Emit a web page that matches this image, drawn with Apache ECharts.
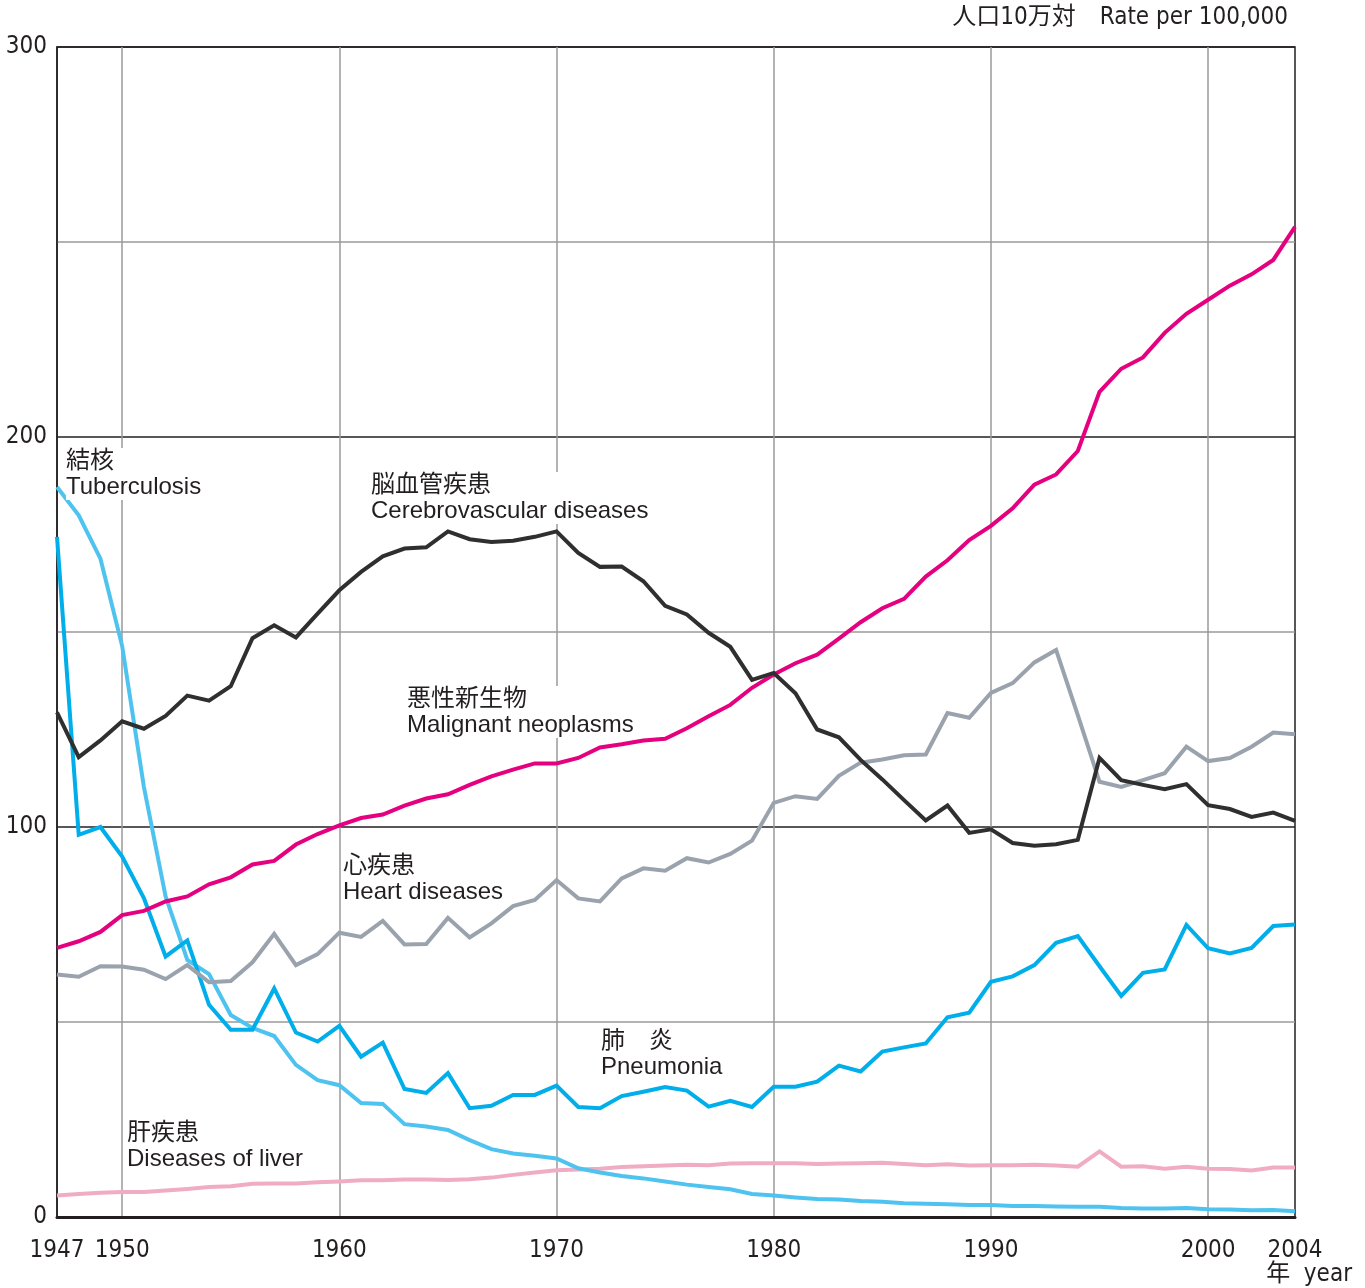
<!DOCTYPE html>
<html>
<head>
<meta charset="utf-8">
<script src="https://cdn.jsdelivr.net/npm/echarts@6/dist/echarts.min.js"></script>
<style>
html,body{margin:0;padding:0;background:#fff;}
#c{width:1365px;height:1288px;}
</style>
</head>
<body>
<div id="c"></div>
<script>
const years = [];
for (let y = 1947; y <= 2004; y++) years.push(String(y));
const xTickLabels = ['1947','1950','1960','1970','1980','1990','2000','2004'];
const yTickLabels = [0, 100, 200, 300];

const cerebrovascular = [129.4,117.9,122.2,127.1,125.2,128.5,133.7,132.4,136.1,148.4,151.7,148.6,154.7,160.7,165.4,169.4,171.4,171.7,175.8,173.8,173.1,173.4,174.4,175.8,170.3,166.7,166.8,163.0,156.7,154.5,149.8,146.2,137.7,139.5,134.3,125.0,123.0,117.2,112.2,106.9,101.7,105.5,98.5,99.4,95.9,95.2,95.6,96.7,117.7,112.0,110.8,109.7,111.0,105.6,104.6,102.6,103.7,101.6];
const malignant = [69.0,70.7,73.1,77.4,78.5,80.9,82.2,85.3,87.1,90.4,91.3,95.5,98.2,100.4,102.3,103.2,105.5,107.3,108.4,110.8,113.0,114.7,116.3,116.3,117.7,120.4,121.2,122.2,122.6,125.3,128.4,131.3,135.7,139.1,142.0,144.2,148.3,152.5,156.1,158.5,164.2,168.4,173.6,177.2,181.7,187.8,190.4,196.4,211.6,217.5,220.4,226.7,231.6,235.2,238.8,241.7,245.4,253.9];
const heart = [62.2,61.6,64.3,64.2,63.4,61.0,64.6,60.2,60.5,65.3,72.6,64.6,67.4,72.9,71.8,75.9,69.9,70.0,76.7,71.7,75.3,79.7,81.3,86.4,81.7,80.9,86.8,89.4,88.8,92.0,90.9,93.1,96.5,106.2,107.9,107.2,113.1,116.5,117.3,118.4,118.6,129.2,128.0,134.4,136.9,142.2,145.4,128.7,111.6,110.3,112.0,113.8,120.6,116.9,117.7,120.6,124.2,123.8];
const tuberculosis = [187.2,179.9,168.8,146.4,110.3,82.2,65.9,62.3,51.8,48.5,46.4,39.0,35.1,33.8,29.2,29.0,23.8,23.2,22.3,19.7,17.4,16.3,15.7,15.0,12.5,11.4,10.5,9.9,9.1,8.3,7.7,7.1,5.9,5.5,5.0,4.6,4.5,4.1,3.9,3.5,3.4,3.3,3.1,3.1,2.8,2.8,2.7,2.6,2.6,2.3,2.2,2.2,2.3,2.0,1.9,1.7,1.8,1.5];
const pneumonia = [174.4,98.0,100.0,92.4,81.8,66.8,70.9,54.4,48.0,48.0,58.6,47.3,45.0,49.0,41.1,44.7,32.8,31.8,36.9,27.9,28.5,31.3,31.3,33.7,28.2,27.9,31.0,32.1,33.3,32.4,28.3,29.8,28.2,33.4,33.4,34.7,38.8,37.3,42.4,43.5,44.5,51.2,52.4,60.3,61.7,64.6,70.3,72.0,64.3,56.7,62.6,63.5,74.9,68.9,67.6,69.0,74.6,75.0];
const liver = [5.5,5.9,6.2,6.4,6.4,6.8,7.2,7.7,7.9,8.5,8.6,8.6,8.9,9.1,9.4,9.4,9.6,9.6,9.5,9.7,10.1,10.8,11.4,12.0,12.2,12.4,12.8,13.0,13.2,13.4,13.3,13.7,13.8,13.8,13.8,13.6,13.7,13.8,13.9,13.6,13.3,13.5,13.2,13.3,13.3,13.4,13.2,12.9,16.8,12.9,13.0,12.4,12.9,12.4,12.3,11.9,12.7,12.7];

const chart = echarts.init(document.getElementById('c'), null, {renderer: 'canvas'});
const narrow = '"Liberation Sans Narrow", "DejaVu Sans Condensed", "Liberation Sans", sans-serif';
const cjk = '"Liberation Sans", "Noto Sans CJK JP", sans-serif';

function mk(name, data, color, z) {
  return {
    name: name, type: 'line', data: data, symbol: 'none', z: z,
    lineStyle: {color: color, width: 4, join: 'miter'},
    itemStyle: {color: color}, animation: false
  };
}

function label(left, top, jp, en) {
  return {
    type: 'text', left: left, top: top, z: 50,
    style: {
      text: jp + '\n' + en,
      font: '24px ' + cjk,
      fill: '#231f20',
      lineHeight: 26,
      backgroundColor: '#fff',
      padding: [0, 2, 0, 0]
    }
  };
}

chart.setOption({
  animation: false,
  backgroundColor: '#fff',
  grid: {left: 57, right: 70, top: 47, bottom: 71, show: true, borderColor: '#231f20', borderWidth: 1.5, backgroundColor: 'transparent'},
  xAxis: {
    type: 'category', data: years, boundaryGap: false,
    axisLine: {show: true, lineStyle: {color: '#231f20', width: 3}},
    axisTick: {show: false},
    axisLabel: {
      interval: (i, v) => xTickLabels.indexOf(v) >= 0,
      color: '#231f20', fontFamily: narrow, fontSize: 24, margin: 22
    },
    splitLine: {
      show: true,
      interval: (i, v) => Number(v) % 10 === 0,
      lineStyle: {color: '#9a9a9a', width: 1.5}
    }
  },
  yAxis: {
    type: 'value', min: 0, max: 300, interval: 50,
    axisLine: {show: true, lineStyle: {color: '#231f20', width: 1.5}},
    axisTick: {show: false},
    axisLabel: {
      formatter: v => yTickLabels.indexOf(v) >= 0 ? String(v) : '',
      color: '#231f20', fontFamily: narrow, fontSize: 24, margin: 10,
      padding: [4, 0, 0, 0]
    },
    splitLine: {show: true, lineStyle: {color: ['#231f20', '#9a9a9a'], width: 1.5}}
  },
  series: [
    mk('肝疾患', liver, '#f0acc3', 3),
    mk('結核', tuberculosis, '#4fc3ef', 4),
    mk('肺炎', pneumonia, '#00aeea', 5),
    mk('心疾患', heart, '#9aa3ad', 6),
    mk('悪性新生物', malignant, '#e5007f', 7),
    mk('脳血管疾患', cerebrovascular, '#2f2f2f', 8)
  ],
  graphic: [
    label(66, 448, '結核', 'Tuberculosis'),
    label(371, 472, '脳血管疾患', 'Cerebrovascular diseases'),
    label(407, 686, '悪性新生物', 'Malignant neoplasms'),
    label(343, 853, '心疾患', 'Heart diseases'),
    label(601, 1028, '肺　炎', 'Pneumonia'),
    label(127, 1120, '肝疾患', 'Diseases of liver'),
    {
      type: 'text', right: 77, top: 6, z: 50,
      style: {text: '人口10万対　Rate per 100,000', font: '24px ' + narrow + ', "Noto Sans CJK JP"', fill: '#231f20'}
    },
    {
      type: 'text', right: 13, top: 1263, z: 50,
      style: {text: '年  year', font: '24px ' + narrow + ', "Noto Sans CJK JP"', fill: '#231f20'}
    }
  ]
});
</script>
</body>
</html>
